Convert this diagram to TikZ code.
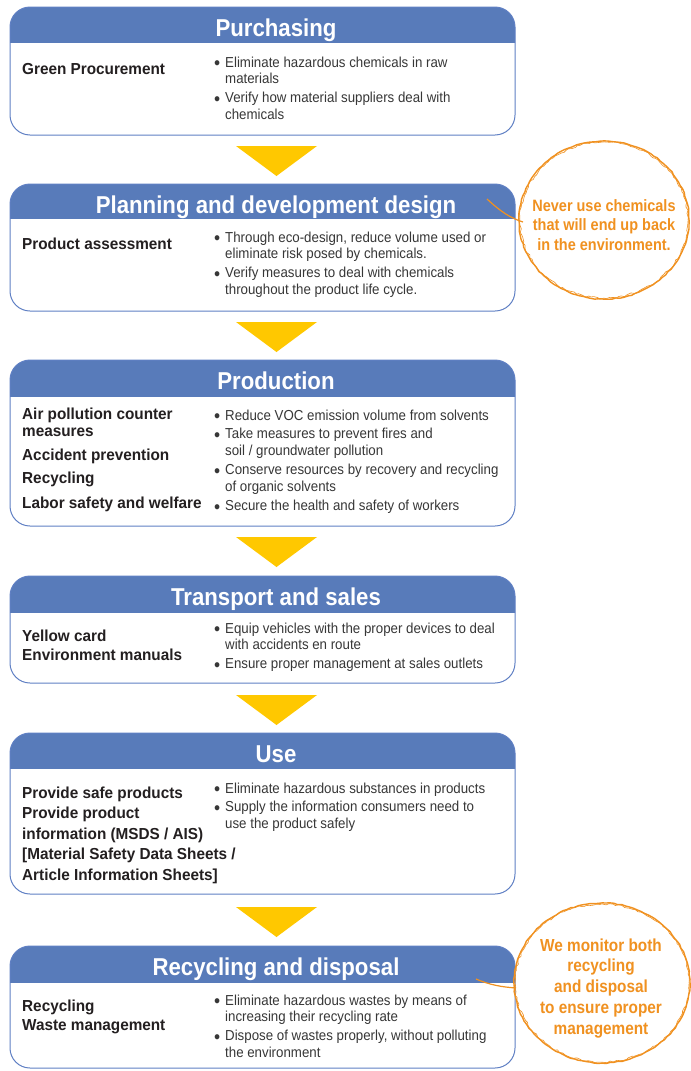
\documentclass[tikz,border=0pt]{standalone}
\usepackage{fontspec}
\setmainfont{Liberation Sans}
\newfontfamily\ttlfont[FakeStretch=0.91]{Liberation Sans}
\newfontfamily\labfont[FakeStretch=0.96]{Liberation Sans}
\newfontfamily\bulfont[FakeStretch=0.92]{Liberation Sans}
\newfontfamily\cirfont[FakeStretch=0.88]{Liberation Sans}
\usetikzlibrary{decorations.pathmorphing}
\definecolor{hdrblue}{RGB}{88,123,186}
\definecolor{edgeblue}{RGB}{96,128,196}
\definecolor{arrowyellow}{RGB}{255,200,0}
\definecolor{brushorange}{RGB}{240,145,32}
\definecolor{labink}{RGB}{35,31,32}
\definecolor{bulink}{RGB}{55,55,55}
\newcommand\bitem[1]{\par\noindent\hangindent=11bp\hangafter=1\makebox[11bp][l]{\raisebox{-2.4bp}{\fontsize{19}{17}\selectfont\textbullet}}#1}
\newcommand\stagebox[5]{%
  \begin{scope}
    \clip (10,#2) rectangle (515,#3);
    \fill[hdrblue, rounded corners=20bp] (10,#2) rectangle (515,#4);
  \end{scope}
  \draw[edgeblue, line width=1bp, rounded corners=20bp] (10,#2) rectangle (515,#4);
  \node[stagetitle] (#1) at (276,#2+29) {#5};
}
\newcommand\downtri[1]{\fill[arrowyellow] (236,#1) -- (317,#1) -- (276.5,#1+30) -- cycle;}
\tikzset{
  stagetitle/.style={anchor=base, inner sep=0, text=white, font=\ttlfont\bfseries\fontsize{24.5}{28}\selectfont},
  lab/.style={anchor=base west, inner sep=0, text=labink, font=\labfont\bfseries\fontsize{16}{20}\selectfont},
  bul/.style={anchor=base west, inner sep=0, text=bulink, font=\bulfont\fontsize{14.5}{17}\selectfont},
  circtext/.style={anchor=base, inner sep=0, text=brushorange, font=\cirfont\bfseries\fontsize{16.5}{20}\selectfont},
  brush/.style={draw=brushorange, line width=1.4bp, decorate, decoration={random steps, segment length=4bp, amplitude=0.5bp}},
  brushthin/.style={draw=brushorange, line width=0.6bp, decorate, decoration={random steps, segment length=3bp, amplitude=1bp}},
}
\newcommand\labbox[1]{\parbox[t]{290bp}{\raggedright #1}}
\newcommand\bulbox[1]{\parbox[t]{330bp}{\raggedright\setlength\parskip{2bp}#1}}
\begin{document}
\begin{tikzpicture}[x=1bp,y=-1bp]
\useasboundingbox (0,0) rectangle (691,1071);
\fill[white] (0,0) rectangle (691,1071);

% stage 1
\stagebox{purch}{7}{42}{135}{Purchasing}
\node[lab] (purchL) at (22,74) {\labbox{Green Procurement}};
\node[bul] (purchB) at (214,67) {\bulbox{\bitem{Eliminate hazardous chemicals in raw\newline materials}\bitem{Verify how material suppliers deal with\newline chemicals}}};
\downtri{146}

% stage 2
\stagebox{plan}{184}{218}{311}{Planning and development design}
\node[lab] (planL) at (22,249) {\labbox{Product assessment}};
\node[bul] (planB) at (214,242) {\bulbox{\bitem{Through eco-design, reduce volume used or\newline eliminate risk posed by chemicals.}\bitem{Verify measures to deal with chemicals\newline throughout the product life cycle.}}};
\downtri{322}

% stage 3
\stagebox{prod}{360}{396}{526}{Production}
\node[lab] (prodL) at (22,419) {\labbox{Air pollution counter\\[-2bp]measures\\[4bp]Accident prevention\\[3bp]Recycling\\[5bp]Labor safety and welfare}};
\node[bul] (prodB) at (214,420) {\bulbox{\bitem{Reduce VOC emission volume from solvents}\bitem{Take measures to prevent fires and\newline soil / groundwater pollution}\bitem{Conserve resources by recovery and recycling\newline of organic solvents}\bitem{Secure the health and safety of workers}}};
\downtri{537}

% stage 4
\stagebox{trans}{576}{612}{683}{Transport and sales}
\node[lab] (transL) at (22,641) {\labbox{Yellow card\\Environment manuals}};
\node[bul] (transB) at (214,633) {\bulbox{\bitem{Equip vehicles with the proper devices to deal\newline with accidents en route}\bitem{Ensure proper management at sales outlets}}};
\downtri{695}

% stage 5
\stagebox{use}{733}{768}{894}{Use}
\node[lab] (useL) at (22,798) {\labbox{\baselineskip=20.5bp Provide safe products\\Provide product\\information (MSDS / AIS)\\\relax[Material Safety Data Sheets /\\Article Information Sheets]}};
\node[bul] (useB) at (214,793) {\bulbox{\bitem{Eliminate hazardous substances in products}\bitem{Supply the information consumers need to\newline use the product safely}}};
\downtri{907}

% stage 6
\stagebox{recy}{946}{982}{1068}{Recycling and disposal}
\node[lab] (recyL) at (22,1011) {\labbox{Recycling\\Waste management}};
\node[bul] (recyB) at (214,1005) {\bulbox{\bitem{Eliminate hazardous wastes by means of\newline increasing their recycling rate}\bitem{Dispose of wastes properly, without polluting\newline the environment}}};

% brush circles
\path[brush] (604,220) ellipse [x radius=85bp, y radius=79bp];
\path[brushthin] (604,220) ellipse [x radius=84bp, y radius=78bp];
\draw[brushorange, line width=1.2bp] (487,199) .. controls (500,211) and (510,218) .. (523,222);
\node[circtext] (note1) at (604,211) {\parbox[t]{170bp}{\centering Never use chemicals\\that will end up back\\in the environment.}};

\path[brush] (602,983) ellipse [x radius=88bp, y radius=80bp];
\path[brushthin] (602,983) ellipse [x radius=87bp, y radius=79bp];
\draw[brushorange, line width=1.2bp] (476,979) .. controls (490,985) and (502,987) .. (516,988);
\node[circtext, font=\cirfont\bfseries\fontsize{17.5}{21}\selectfont] (note2) at (601,951) {\parbox[t]{170bp}{\centering We monitor both\\recycling\\and disposal\\to ensure proper\\management}};
\end{tikzpicture}
\end{document}
